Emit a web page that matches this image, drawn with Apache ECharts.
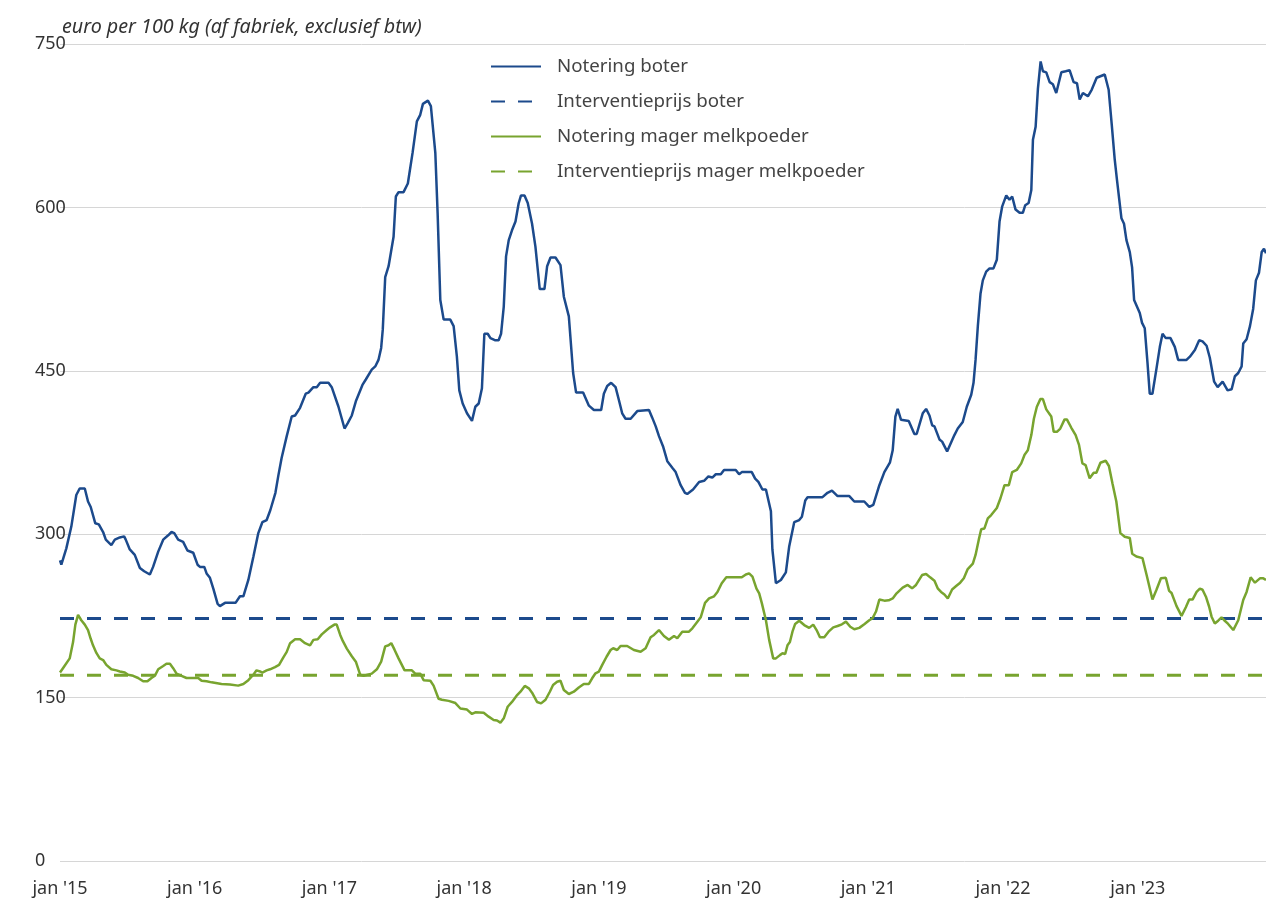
<!DOCTYPE html>
<html>
<head>
<meta charset="utf-8">
<script src="https://cdn.jsdelivr.net/npm/echarts@6/dist/echarts.min.js"></script>
<style>
html,body{margin:0;padding:0;background:#fff;}
#chart{width:1266px;height:903px;}
</style>
</head>
<body>
<div id="chart"></div>
<script>
const seriesNames = ["Notering boter", "Interventieprijs boter", "Notering mager melkpoeder", "Interventieprijs mager melkpoeder"];
const xTickLabels = ["jan '15", "jan '16", "jan '17", "jan '18", "jan '19", "jan '20", "jan '21", "jan '22", "jan '23"];
const yTicks = [0, 150, 300, 450, 600, 750];
const xStart = 2015, xEnd = 2023.952;
const interventieBoter = 222.5;
const interventieMmp = 170.5;

const boter = [[2015.000,276],[2015.010,272],[2015.047,287],[2015.084,307],[2015.121,336],[2015.146,342],[2015.184,342],[2015.208,330],[2015.228,325],[2015.262,310],[2015.288,309],[2015.320,302],[2015.340,295],[2015.381,290],[2015.407,295],[2015.444,297],[2015.476,298],[2015.488,295],[2015.518,286],[2015.555,281],[2015.593,269],[2015.625,266],[2015.667,263],[2015.691,270],[2015.729,284],[2015.766,295],[2015.803,299],[2015.828,302],[2015.848,301],[2015.877,295],[2015.914,293],[2015.946,285],[2015.989,283],[2016.021,272],[2016.039,270],[2016.071,270],[2016.088,264],[2016.113,260],[2016.138,250],[2016.170,236],[2016.187,234],[2016.225,237],[2016.303,237],[2016.336,243],[2016.361,243],[2016.398,258],[2016.435,279],[2016.472,301],[2016.502,311],[2016.534,313],[2016.561,322],[2016.599,338],[2016.621,354],[2016.645,370],[2016.683,390],[2016.720,408],[2016.745,409],[2016.782,416],[2016.824,429],[2016.844,430],[2016.881,435],[2016.906,435],[2016.931,439],[2016.993,439],[2017.017,435],[2017.067,417],[2017.112,397],[2017.136,402],[2017.166,409],[2017.196,422],[2017.245,437],[2017.270,442],[2017.314,451],[2017.340,454],[2017.364,460],[2017.384,471],[2017.396,488],[2017.414,536],[2017.439,546],[2017.476,573],[2017.493,610],[2017.513,614],[2017.550,614],[2017.582,622],[2017.617,650],[2017.649,679],[2017.674,685],[2017.694,695],[2017.731,698],[2017.753,693],[2017.786,650],[2017.803,595],[2017.823,515],[2017.848,497],[2017.897,497],[2017.922,491],[2017.946,463],[2017.964,432],[2017.989,420],[2018.021,411],[2018.058,404],[2018.083,417],[2018.108,420],[2018.132,434],[2018.150,484],[2018.175,484],[2018.195,480],[2018.232,478],[2018.256,478],[2018.274,484],[2018.294,509],[2018.311,555],[2018.331,570],[2018.355,579],[2018.381,587],[2018.405,604],[2018.422,611],[2018.448,611],[2018.472,604],[2018.504,585],[2018.529,564],[2018.561,525],[2018.596,525],[2018.616,546],[2018.641,554],[2018.678,554],[2018.715,547],[2018.740,518],[2018.777,500],[2018.809,448],[2018.831,430],[2018.883,430],[2018.926,418],[2018.963,414],[2019.017,414],[2019.037,429],[2019.062,436],[2019.091,439],[2019.124,435],[2019.149,423],[2019.173,411],[2019.198,406],[2019.236,406],[2019.285,413],[2019.372,414],[2019.396,407],[2019.422,399],[2019.446,390],[2019.478,380],[2019.508,367],[2019.545,361],[2019.570,357],[2019.607,345],[2019.639,338],[2019.656,337],[2019.699,341],[2019.744,348],[2019.781,349],[2019.813,353],[2019.842,352],[2019.868,355],[2019.905,355],[2019.929,359],[2020.016,359],[2020.041,355],[2020.061,357],[2020.135,357],[2020.160,351],[2020.184,348],[2020.214,341],[2020.240,341],[2020.277,321],[2020.288,286],[2020.314,255],[2020.351,258],[2020.388,265],[2020.413,289],[2020.450,311],[2020.487,313],[2020.507,316],[2020.532,331],[2020.549,334],[2020.660,334],[2020.697,338],[2020.730,340],[2020.772,335],[2020.859,335],[2020.896,330],[2020.970,330],[2021.007,325],[2021.037,327],[2021.082,345],[2021.119,357],[2021.161,366],[2021.181,377],[2021.201,408],[2021.218,415],[2021.243,405],[2021.300,404],[2021.342,392],[2021.359,392],[2021.404,411],[2021.429,415],[2021.454,409],[2021.474,400],[2021.491,399],[2021.528,387],[2021.548,385],[2021.585,376],[2021.639,391],[2021.664,397],[2021.701,403],[2021.731,417],[2021.764,428],[2021.781,439],[2021.796,460],[2021.813,491],[2021.833,521],[2021.850,533],[2021.875,541],[2021.900,544],[2021.929,544],[2021.954,552],[2021.974,587],[2021.994,601],[2022.024,611],[2022.048,607],[2022.068,610],[2022.093,598],[2022.123,595],[2022.147,595],[2022.165,602],[2022.190,604],[2022.210,616],[2022.222,662],[2022.242,674],[2022.259,709],[2022.279,734],[2022.296,725],[2022.321,724],[2022.346,715],[2022.370,713],[2022.395,705],[2022.433,724],[2022.465,725],[2022.494,726],[2022.524,715],[2022.549,714],[2022.569,699],[2022.593,705],[2022.630,702],[2022.658,708],[2022.695,719],[2022.755,722],[2022.784,708],[2022.807,676],[2022.829,644],[2022.846,625],[2022.879,590],[2022.898,585],[2022.916,570],[2022.941,559],[2022.958,545],[2022.973,515],[2023.015,503],[2023.032,494],[2023.052,489],[2023.072,458],[2023.089,429],[2023.109,429],[2023.139,452],[2023.164,472],[2023.184,484],[2023.208,480],[2023.243,480],[2023.275,472],[2023.300,460],[2023.362,460],[2023.387,463],[2023.424,469],[2023.456,478],[2023.481,477],[2023.511,473],[2023.535,462],[2023.567,440],[2023.593,435],[2023.630,440],[2023.667,432],[2023.697,433],[2023.721,445],[2023.746,448],[2023.771,454],[2023.783,475],[2023.808,479],[2023.833,491],[2023.857,507],[2023.877,533],[2023.900,540],[2023.920,559],[2023.937,562],[2023.952,558]];

const magerMelkpoeder = [[2015.000,173],[2015.022,177],[2015.072,186],[2015.097,201],[2015.114,217],[2015.134,226],[2015.158,221],[2015.184,217],[2015.208,212],[2015.228,204],[2015.245,198],[2015.270,191],[2015.295,186],[2015.320,184.5],[2015.344,180],[2015.381,176],[2015.419,175],[2015.444,174],[2015.481,173],[2015.506,171],[2015.543,170],[2015.580,168],[2015.617,165],[2015.649,165],[2015.679,168],[2015.704,170],[2015.729,176],[2015.766,179],[2015.790,181],[2015.816,181],[2015.840,177],[2015.865,172],[2015.902,170],[2015.939,168],[2016.026,168],[2016.051,165.5],[2016.088,165],[2016.125,164],[2016.199,162.5],[2016.262,162],[2016.323,161],[2016.361,162.5],[2016.398,166],[2016.435,171],[2016.459,175],[2016.485,174],[2016.502,173],[2016.534,175],[2016.559,176],[2016.596,178],[2016.626,180],[2016.658,187],[2016.683,192],[2016.708,200],[2016.745,203.5],[2016.782,203.5],[2016.819,200],[2016.856,198],[2016.881,203],[2016.913,203.5],[2016.943,208],[2016.980,212],[2017.005,214.5],[2017.037,217],[2017.054,217],[2017.080,207.5],[2017.099,202],[2017.129,195],[2017.166,188],[2017.196,183],[2017.228,171],[2017.253,170],[2017.314,172],[2017.352,176],[2017.384,183],[2017.414,197],[2017.439,198],[2017.459,200],[2017.483,194],[2017.513,186],[2017.558,175],[2017.612,175],[2017.637,172],[2017.674,172],[2017.699,166],[2017.749,165.5],[2017.773,161],[2017.810,149],[2017.835,148],[2017.885,147],[2017.935,145],[2017.972,140],[2018.021,139],[2018.058,135],[2018.083,136.5],[2018.145,136],[2018.182,132.5],[2018.219,129.5],[2018.244,129],[2018.269,127],[2018.294,131],[2018.323,141.6],[2018.355,146],[2018.388,151.5],[2018.418,155.4],[2018.450,160.7],[2018.480,158.5],[2018.504,154.5],[2018.541,146],[2018.571,144.7],[2018.604,148],[2018.636,155.4],[2018.660,161.6],[2018.690,164.6],[2018.715,165.5],[2018.740,157],[2018.777,153.3],[2018.814,155.4],[2018.851,159.3],[2018.888,162.5],[2018.926,162.5],[2018.950,167.7],[2018.975,172.3],[2019.000,173.8],[2019.025,180],[2019.057,187.5],[2019.087,193.7],[2019.106,195.3],[2019.136,193.7],[2019.161,197.4],[2019.210,197.4],[2019.260,193.7],[2019.310,192.1],[2019.347,195.3],[2019.384,205.4],[2019.409,207.5],[2019.446,212],[2019.483,206.5],[2019.520,203],[2019.558,206.5],[2019.582,204.4],[2019.619,210.5],[2019.669,210.5],[2019.694,213.6],[2019.731,219.7],[2019.756,223.7],[2019.788,237],[2019.818,241],[2019.855,243],[2019.880,247],[2019.912,255],[2019.946,260.4],[2020.061,260.4],[2020.091,263],[2020.115,264],[2020.140,261],[2020.170,250],[2020.190,245.7],[2020.210,236.5],[2020.240,221],[2020.264,203],[2020.294,186],[2020.314,186],[2020.344,189],[2020.363,190.7],[2020.383,190],[2020.400,198],[2020.418,201],[2020.437,210.5],[2020.457,217.6],[2020.487,220.6],[2020.524,216.6],[2020.561,214],[2020.591,217],[2020.616,212],[2020.641,205.4],[2020.673,205.4],[2020.705,210.5],[2020.740,214.5],[2020.772,215.7],[2020.804,217.3],[2020.834,219.7],[2020.866,215],[2020.896,212.7],[2020.933,214],[2020.970,217.3],[2021.007,221],[2021.032,223],[2021.057,229],[2021.082,240],[2021.119,239],[2021.151,239.3],[2021.181,241],[2021.210,245.7],[2021.255,251],[2021.292,253.4],[2021.325,250.3],[2021.354,253.4],[2021.399,262.5],[2021.429,263.5],[2021.459,260.4],[2021.491,257.3],[2021.515,250.3],[2021.540,247],[2021.565,244.7],[2021.590,241],[2021.622,249.3],[2021.652,252.4],[2021.682,255.5],[2021.709,259.5],[2021.738,268],[2021.776,273],[2021.796,281],[2021.820,295],[2021.838,304.5],[2021.862,305.3],[2021.887,314.5],[2021.912,317.6],[2021.954,324],[2021.981,333],[2022.011,345],[2022.043,345],[2022.068,357],[2022.102,359],[2022.135,365],[2022.160,373],[2022.184,377],[2022.210,391],[2022.229,406],[2022.251,417],[2022.277,424],[2022.296,424],[2022.321,414.6],[2022.358,408],[2022.376,394],[2022.400,394],[2022.425,397],[2022.457,405.4],[2022.474,405.4],[2022.507,397.7],[2022.539,391],[2022.564,382],[2022.589,365],[2022.613,363.5],[2022.643,351.3],[2022.673,356.4],[2022.693,356.4],[2022.723,365.6],[2022.762,367.4],[2022.786,362.6],[2022.812,346.7],[2022.841,330],[2022.871,301],[2022.903,297.7],[2022.941,296.5],[2022.959,282],[2022.990,279.5],[2023.035,278],[2023.065,263],[2023.109,240],[2023.139,249],[2023.172,259.5],[2023.208,260],[2023.233,248],[2023.251,246],[2023.288,234],[2023.325,225],[2023.357,233],[2023.382,240],[2023.407,240],[2023.437,247],[2023.461,250],[2023.481,249],[2023.506,242.6],[2023.530,233.4],[2023.548,224.3],[2023.572,218],[2023.597,220.6],[2023.622,223.7],[2023.642,221],[2023.671,217.6],[2023.709,212],[2023.746,221],[2023.783,239.6],[2023.808,247],[2023.838,260.4],[2023.870,255.5],[2023.907,259.5],[2023.932,259.5],[2023.952,258]];

const BLUE = '#1c4a8c';
const GREEN = '#78a42f';
const FONT = 'Noto Sans';

const chart = echarts.init(document.getElementById('chart'), null, {renderer: 'canvas'});
const option = {
  animation: false,
  textStyle: { fontFamily: FONT },
  title: {
    text: 'euro per 100 kg (af fabriek, exclusief btw)',
    left: 57, top: 12,
    textStyle: { fontFamily: FONT, fontStyle: 'italic', fontWeight: 'normal', fontSize: 19.7, color: '#333333' }
  },
  legend: {
    orient: 'vertical',
    left: 490, top: 57,
    padding: 0,
    itemWidth: 50, itemHeight: 14, itemGap: 16,
    itemStyle: { opacity: 0 },
    textStyle: { fontFamily: FONT, fontSize: 18.7, color: '#444444', padding: [0, 0, 0, 11] },
    data: seriesNames
  },
  grid: { left: 60, right: 0, top: 44, bottom: 42, containLabel: false },
  xAxis: {
    type: 'value',
    min: xStart, max: xEnd, interval: 1,
    axisLine: { show: false },
    axisTick: { show: false },
    splitLine: { show: false },
    axisLabel: {
      margin: 19,
      fontFamily: FONT, fontSize: 18, color: '#333333',
      showMaxLabel: false,
      formatter: function (v) {
        const i = Math.round(v - xStart);
        return (Math.abs(v - xStart - i) < 1e-6 && xTickLabels[i]) ? xTickLabels[i] : '';
      }
    }
  },
  yAxis: {
    type: 'value',
    min: yTicks[0], max: yTicks[yTicks.length - 1], interval: yTicks[1] - yTicks[0],
    axisLine: { show: false },
    axisTick: { show: false },
    splitLine: { lineStyle: { color: '#d6d6d6', width: 1 } },
    axisLabel: { align: 'left', margin: 25, fontFamily: FONT, fontSize: 18, color: '#333333' }
  },
  series: [
    { name: seriesNames[0], type: 'line', data: boter, showSymbol: false, symbol: 'none',
      lineStyle: { color: BLUE, width: 2.5 }, itemStyle: { color: BLUE }, z: 4 },
    { name: seriesNames[1], type: 'line', data: [[xStart, interventieBoter], [xEnd, interventieBoter]], showSymbol: false, symbol: 'none',
      lineStyle: { color: BLUE, width: 3, type: [14, 13] }, itemStyle: { color: BLUE }, z: 2 },
    { name: seriesNames[2], type: 'line', data: magerMelkpoeder, showSymbol: false, symbol: 'none',
      lineStyle: { color: GREEN, width: 2.5 }, itemStyle: { color: GREEN }, z: 4 },
    { name: seriesNames[3], type: 'line', data: [[xStart, interventieMmp], [xEnd, interventieMmp]], showSymbol: false, symbol: 'none',
      lineStyle: { color: GREEN, width: 3, type: [14, 13] }, itemStyle: { color: GREEN }, z: 2 }
  ]
};
chart.setOption(option);
</script>
</body>
</html>
